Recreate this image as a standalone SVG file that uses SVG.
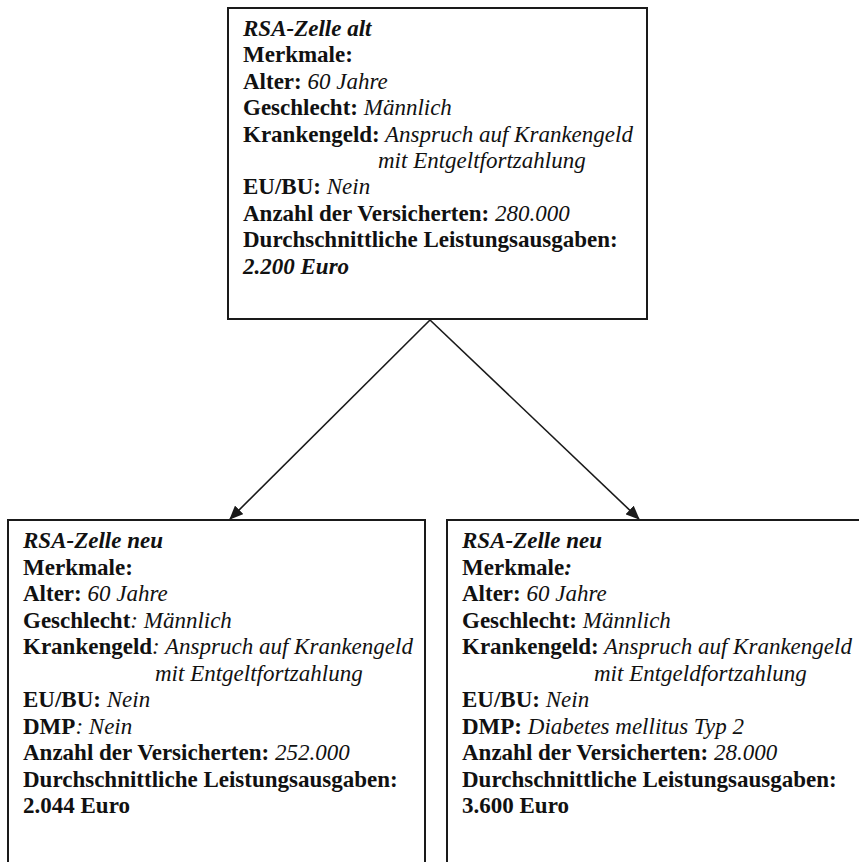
<svg xmlns="http://www.w3.org/2000/svg" width="859" height="862" viewBox="0 0 859 862">
<style>
  text { font-family: "Liberation Serif", "Times New Roman", serif; font-size: 23px; fill: #111; }
  .b { font-weight: bold; }
  .i { font-style: italic; }
  .bi { font-weight: bold; font-style: italic; }
  .box { fill: #fff; stroke: #1a1a1a; stroke-width: 2; }
  .conn { stroke: #1a1a1a; stroke-width: 1.6; fill: none; }
</style>
<defs>
  <marker id="arrow" markerUnits="userSpaceOnUse" markerWidth="14" markerHeight="12" refX="13" refY="6" orient="auto">
    <path d="M0,0 L14,6 L0,12 Z" fill="#1a1a1a"/>
  </marker>
</defs>
<rect width="859" height="862" fill="#fff"/>
<g id="node-alt">
  <rect class="box" x="228" y="8" width="419" height="311"/>
  <text x="243" y="36"><tspan class="bi">RSA-Zelle alt</tspan></text>
  <text x="243" y="62.4"><tspan class="b">Merkmale:</tspan></text>
  <text x="243" y="88.8"><tspan class="b">Alter:</tspan><tspan class="i"> 60 Jahre</tspan></text>
  <text x="243" y="115.2"><tspan class="b">Geschlecht:</tspan><tspan class="i"> Männlich</tspan></text>
  <text x="243" y="141.6"><tspan class="b">Krankengeld:</tspan><tspan class="i"> Anspruch auf Krankengeld</tspan></text>
  <text x="378" y="168"><tspan class="i">mit Entgeltfortzahlung</tspan></text>
  <text x="243" y="194.4"><tspan class="b">EU/BU:</tspan><tspan class="i"> Nein</tspan></text>
  <text x="243" y="220.8"><tspan class="b">Anzahl der Versicherten:</tspan><tspan class="i"> 280.000</tspan></text>
  <text x="243" y="247.2"><tspan class="b">Durchschnittliche Leistungsausgaben:</tspan></text>
  <text x="243" y="273.6"><tspan class="bi">2.200 Euro</tspan></text>
</g>
<g id="node-neu-1">
  <rect class="box" x="8" y="520" width="417" height="360"/>
  <text x="23" y="548"><tspan class="bi">RSA-Zelle neu</tspan></text>
  <text x="23" y="574.5"><tspan class="b">Merkmale:</tspan></text>
  <text x="23" y="601"><tspan class="b">Alter:</tspan><tspan class="i"> 60 Jahre</tspan></text>
  <text x="23" y="627.5"><tspan class="b">Geschlecht</tspan><tspan class="i">: Männlich</tspan></text>
  <text x="23" y="654"><tspan class="b">Krankengeld</tspan><tspan class="i">: Anspruch auf Krankengeld</tspan></text>
  <text x="155" y="680.5"><tspan class="i">mit Entgeltfortzahlung</tspan></text>
  <text x="23" y="707"><tspan class="b">EU/BU:</tspan><tspan class="i"> Nein</tspan></text>
  <text x="23" y="733.5"><tspan class="b">DMP</tspan><tspan class="i">: Nein</tspan></text>
  <text x="23" y="760"><tspan class="b">Anzahl der Versicherten:</tspan><tspan class="i"> 252.000</tspan></text>
  <text x="23" y="786.5"><tspan class="b">Durchschnittliche Leistungsausgaben:</tspan></text>
  <text x="23" y="813"><tspan class="b">2.044 Euro</tspan></text>
</g>
<g id="node-neu-2">
  <rect class="box" x="447" y="520" width="430" height="360"/>
  <text x="462" y="548"><tspan class="bi">RSA-Zelle neu</tspan></text>
  <text x="462" y="574.5"><tspan class="b">Merkmale</tspan><tspan class="bi">:</tspan></text>
  <text x="462" y="601"><tspan class="b">Alter:</tspan><tspan class="i"> 60 Jahre</tspan></text>
  <text x="462" y="627.5"><tspan class="b">Geschlecht:</tspan><tspan class="i"> Männlich</tspan></text>
  <text x="462" y="654"><tspan class="b">Krankengeld:</tspan><tspan class="i"> Anspruch auf Krankengeld</tspan></text>
  <text x="594" y="680.5"><tspan class="i">mit Entgeldfortzahlung</tspan></text>
  <text x="462" y="707"><tspan class="b">EU/BU:</tspan><tspan class="i"> Nein</tspan></text>
  <text x="462" y="733.5"><tspan class="b">DMP:</tspan><tspan class="i"> Diabetes mellitus Typ 2</tspan></text>
  <text x="462" y="760"><tspan class="b">Anzahl der Versicherten:</tspan><tspan class="i"> 28.000</tspan></text>
  <text x="462" y="786.5"><tspan class="b">Durchschnittliche Leistungsausgaben:</tspan></text>
  <text x="462" y="813"><tspan class="b">3.600 Euro</tspan></text>
</g>
<g id="connectors">
  <line class="conn" x1="430" y1="320" x2="230" y2="519" marker-end="url(#arrow)"/>
  <line class="conn" x1="430" y1="320" x2="639" y2="519" marker-end="url(#arrow)"/>
</g>
</svg>
